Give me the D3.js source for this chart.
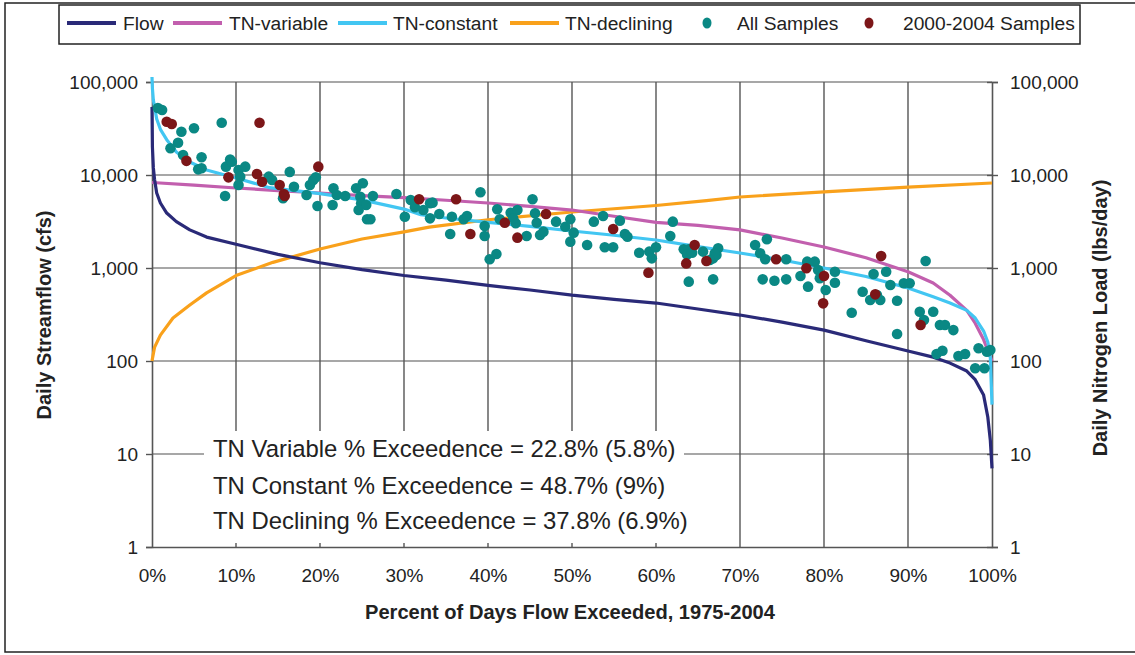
<!DOCTYPE html>
<html><head><meta charset="utf-8">
<script src="https://cdn.jsdelivr.net/npm/d3@7"></script>
<style>
body{margin:0;background:#fff}
svg{display:block}
text{font-family:"Liberation Sans",Arial,sans-serif;fill:#222}
</style>
</head><body>
<svg id="c" width="1135" height="655"></svg>
<script>
// ---------- data ----------
const flowPct = [0,0.05,0.16,0.3,0.56,1,1.75,2.9,4.5,6.5,10,15,20,25,30,35,40,45,50,55,60,65,70,75,80,85,90,93,95,97,98,99,99.5,99.8,100];
const flowVal = [54000,20000,12000,9000,6400,5000,3900,3150,2570,2150,1800,1400,1140,960,830,740,650,580,510,460,420,362,312,262,215,165,128,110,95,78,63,43,25,14,7];

const tnvPct = [0,5,10,15,20,25,30,35,40,45,50,55,60,65,70,75,80,85,90,93,95,97,98,99,99.5,100];
const tnvVal = [8300,7800,7250,6800,6400,6000,5700,5350,5000,4600,4200,3600,3100,2870,2570,2100,1680,1290,910,690,510,350,255,170,130,100];

const tncPct = [0,0.05,0.16,0.56,1,1.75,2.9,4.5,6.5,10,14,20,25,30,32,35,40,45,50,55,60,65,70,75,80,85,90,93,95,97,98,99,99.5,99.8,100];
const tncVal = [113000,85000,64000,40000,31000,24000,17700,13800,11300,9300,7300,6300,5400,4300,3750,3450,3100,2800,2500,2250,2000,1700,1450,1220,1000,810,610,490,420,350,290,210,160,110,34];

const tndPct = [0,0.3,1,2.5,4.5,6.5,10,14.4,20,25,30,33,40,50,60,66,70,80,90,100];
const tndVal = [100,140,190,290,400,540,830,1150,1600,2050,2450,2750,3300,4000,4700,5300,5800,6600,7400,8200];

const allPct = [0.7,1.2,3.5,5.0,8.3,3.1,2.2,3.7,5.9,5.5,5.9,8.8,9.3,9.5,10.3,11.1,10.5,10.3,8.7,13.9,14.3,16.4,16.9,15.6,18.4,18.8,19.2,19.5,19.7,21.6,22.0,23.0,21.5,24.3,25.1,24.8,24.9,25.5,24.6,25.6,26.0,26.3,29.1,30.8,31.3,32.3,30.1,33.1,33.4,33.1,34.2,35.7,35.5,37.1,37.5,39.1,39.6,39.6,40.2,41.0,41.1,41.4,42.7,43.5,43.3,43.0,44.6,45.3,45.6,45.8,46.2,46.6,48.1,49.2,49.8,50.2,49.8,51.8,52.6,53.7,53.9,54.9,55.7,56.3,56.6,58.0,59.2,59.5,60.0,61.7,62.0,63.3,63.9,63.7,64.3,63.9,65.6,66.8,67.2,66.8,67.4,67.0,66.4,71.8,73.2,72.4,73.0,72.7,74.1,75.5,75.5,77.2,78.0,78.9,79.3,79.5,78.1,80.2,81.3,81.3,83.3,84.6,85.9,85.5,86.7,86.3,87.4,87.9,88.7,88.7,89.5,90.2,92.1,91.4,93.0,91.9,93.8,94.4,95.4,93.4,94.1,96.0,96.8,98.4,99.4,99.8,98.0,99.1];
const allVal = [52500,50000,29200,31800,36500,22200,19400,16400,15500,11500,11800,12300,14700,13900,11300,12300,9600,7800,5950,9600,8840,10800,7480,5620,6100,7800,8840,9440,4640,7190,6100,5950,4750,7190,8140,5840,4960,4750,4200,3340,3340,5950,6250,5390,4500,4200,3560,4960,5040,3420,3810,3560,2320,3340,3620,6520,2830,2210,1240,1415,4280,3340,3930,4200,3030,3420,2210,5480,3870,3070,2260,2460,3150,2780,3340,2400,1920,1770,3150,3620,1670,1670,3230,2320,2170,1460,1500,1270,1670,2210,3150,1590,1590,1400,1460,713,1500,1270,1380,755,1630,1440,1220,1770,2040,1440,1240,755,730,755,1240,820,1170,1170,952,775,630,580,912,695,330,556,861,453,453,513,912,656,445,195,685,685,1190,339,339,276,244,244,215,119,129,113,119,137,126,131,83.5,83.5];

const recentPct = [1.75,2.35,12.8,4.1,9.1,12.5,13.1,15.2,15.7,15.8,19.8,31.8,36.2,37.9,42.0,43.5,46.9,54.9,59.1,63.6,64.6,66.0,74.3,77.9,80.0,79.9,86.8,86.1,91.5];
const recentVal = [37400,35400,36500,14200,9440,10250,8470,7800,6250,5950,12300,5480,5480,2320,3070,2120,3810,2630,890,1120,1770,1190,1240,993,820,417,1345,521,244];

const xTicks = [0,10,20,30,40,50,60,70,80,90,100];
const yTicks = [1,10,100,1000,10000,100000];
const legendLabels = ["Flow","TN-variable","TN-constant","TN-declining","All Samples","2000-2004 Samples"];
const noteLines = ["TN Variable % Exceedence = 22.8% (5.8%)","TN Constant % Exceedence = 48.7% (9%)","TN Declining % Exceedence = 37.8% (6.9%)"];

// ---------- chart ----------
const C = {flow:"#2a2a78", tnv:"#c25fae", tnc:"#42c6f2", tnd:"#f9a11b", all:"#0a8884", recent:"#7c1618"};
const svg = d3.select("#c");
const L=152, R=992, T=82, B=547;
const x = d3.scaleLinear().domain([0,100]).range([L,R]);
const y = d3.scaleLog().domain([1,100000]).range([B,T]);

// frame
svg.append("rect").attr("x",5).attr("y",3).attr("width",1140).attr("height",649)
  .attr("fill","none").attr("stroke","#222").attr("stroke-width",1.5);

// grid
const g = svg.append("g");
g.selectAll(".hg").data(yTicks.slice(1)).join("line")
  .attr("x1",L).attr("x2",R).attr("y1",d=>y(d)).attr("y2",d=>y(d))
  .attr("stroke","#8a8a8a").attr("stroke-width",1.4);
g.selectAll(".vg").data(xTicks.slice(1,-1)).join("line")
  .attr("x1",d=>x(d)).attr("x2",d=>x(d)).attr("y1",T).attr("y2",B)
  .attr("stroke","#555").attr("stroke-width",1.4);

// note box
svg.append("rect").attr("x",204).attr("y",431).attr("width",480).attr("height",112).attr("fill","#fff");
const noteY=[457,494,529];
svg.selectAll(".note").data(noteLines).join("text")
  .attr("x",213).attr("y",(d,i)=>noteY[i]).attr("font-size",23.9).text(d=>d);

// axes
const fmt = d3.format(",");
const ax = svg.append("g");
const left = ax.append("g").attr("transform",`translate(${L},0)`)
  .call(d3.axisLeft(y).tickValues(yTicks).tickFormat(fmt).tickSize(6).tickPadding(8));
const right = ax.append("g").attr("transform",`translate(${R},0)`)
  .call(d3.axisRight(y).tickValues(yTicks).tickFormat(fmt).tickSize(6).tickPadding(12));
const bottom = ax.append("g").attr("transform",`translate(0,${B})`)
  .call(d3.axisBottom(x).tickValues(xTicks).tickFormat(d=>d+"%").tickSize(0).tickPadding(22));
[left,right,bottom].forEach(a=>{
  a.selectAll("path.domain").attr("stroke","#555").attr("stroke-width",1.6);
  a.selectAll(".tick line").attr("stroke","#555").attr("stroke-width",1.4);
  a.selectAll("text").attr("font-size",19).attr("fill","#222").attr("font-family","Liberation Sans, Arial, sans-serif");
});
right.selectAll(".tick line").attr("x1",-5);

// axis titles
svg.append("text").attr("x",570).attr("y",619).attr("text-anchor","middle")
  .attr("font-size",20.1).attr("font-weight","bold").text("Percent of Days Flow Exceeded, 1975-2004");
svg.append("text").attr("transform","translate(51,315) rotate(-90)").attr("text-anchor","middle")
  .attr("font-size",20).attr("font-weight","bold").text("Daily Streamflow (cfs)");
svg.append("text").attr("transform","translate(1107,318) rotate(-90)").attr("text-anchor","middle")
  .attr("font-size",20).attr("font-weight","bold").text("Daily Nitrogen Load (lbs/day)");

// lines
const line = d3.line().x(d=>x(d[0])).y(d=>y(d[1]));
const series = [
  [d3.zip(tndPct,tndVal),C.tnd],
  [d3.zip(tnvPct,tnvVal),C.tnv],
  [d3.zip(flowPct,flowVal),C.flow],
  [d3.zip(tncPct,tncVal),C.tnc]
];
series.forEach(([data,col])=>{
  svg.append("path").datum(data).attr("d",line).attr("fill","none")
    .attr("stroke",col).attr("stroke-width",3.2).attr("stroke-linejoin","round");
});

// points
svg.append("g").selectAll("circle").data(d3.zip(allPct,allVal)).join("circle")
  .attr("cx",d=>x(d[0])).attr("cy",d=>y(d[1])).attr("r",5.3).attr("fill",C.all);
svg.append("g").selectAll("circle").data(d3.zip(recentPct,recentVal)).join("circle")
  .attr("cx",d=>x(d[0])).attr("cy",d=>y(d[1])).attr("r",5.3).attr("fill",C.recent);

// legend
svg.append("rect").attr("x",59).attr("y",5).attr("width",1021).attr("height",39)
  .attr("fill","#fff").attr("stroke","#222").attr("stroke-width",1.5);
const legX = [67,173,338,510,707,869];
const legTX = [123,229,393,565,737,903];
const legCol = [C.flow,C.tnv,C.tnc,C.tnd,C.all,C.recent];
const lg = svg.append("g");
legendLabels.forEach((lab,i)=>{
  if(i<4){
    lg.append("line").attr("x1",legX[i]).attr("x2",legX[i]+49).attr("y1",23).attr("y2",23)
      .attr("stroke",legCol[i]).attr("stroke-width",4);
  } else {
    lg.append("ellipse").attr("cx",legX[i]).attr("cy",23).attr("rx",4.5).attr("ry",5.5).attr("fill",legCol[i]);
  }
  lg.append("text").attr("x",legTX[i]).attr("y",30).attr("font-size",19.2).text(lab);
});
</script>
</body></html>
